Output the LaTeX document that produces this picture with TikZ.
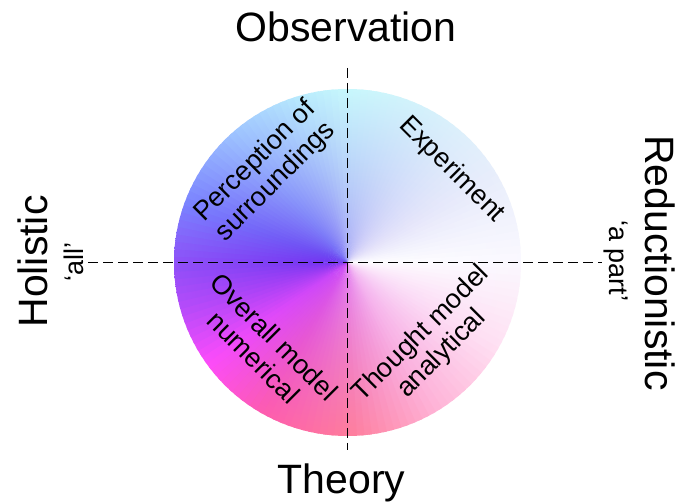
\documentclass[tikz,border=0pt]{standalone}
\usepackage{fontspec}
\setmainfont{Liberation Sans}
% outer (rim) colours, angle clockwise from top
\definecolor{o0}{HTML}{C8FAFC}
\definecolor{o30}{HTML}{D6F2FB}
\definecolor{o60}{HTML}{E8EEFB}
\definecolor{o90}{HTML}{FAF8FF}
\definecolor{o120}{HTML}{FFE0F2}
\definecolor{o150}{HTML}{FFB2D4}
\definecolor{o180}{HTML}{FF7C98}
\definecolor{o210}{HTML}{FF5CAC}
\definecolor{o235}{HTML}{FF4CFA}
\definecolor{o255}{HTML}{B84CFA}
\definecolor{o270}{HTML}{9050F8}
\definecolor{o290}{HTML}{7A84FF}
\definecolor{o320}{HTML}{A0C8FF}
\definecolor{o345}{HTML}{BAEEFD}
% inner (centre) colours
\definecolor{i0}{HTML}{A8A8F6}
\definecolor{i30}{HTML}{C8C4F8}
\definecolor{i60}{HTML}{E4E0FA}
\definecolor{i90}{HTML}{FFFFFF}
\definecolor{i120}{HTML}{F8D6F8}
\definecolor{i150}{HTML}{F2B2F4}
\definecolor{i180}{HTML}{E280F4}
\definecolor{i210}{HTML}{D052F8}
\definecolor{i235}{HTML}{C046F8}
\definecolor{i255}{HTML}{9438F2}
\definecolor{i270}{HTML}{7030F0}
\definecolor{i290}{HTML}{6C40F0}
\definecolor{i320}{HTML}{7468F6}
\definecolor{i345}{HTML}{9088F6}
\begin{document}
\begin{tikzpicture}[x=1pt,y=1pt,
  bigtxt/.style={font=\fontsize{41}{49}\selectfont, inner sep=0pt},
  smalltxt/.style={font=\fontsize{27}{32}\selectfont, inner sep=0pt},
  quadtxt/.style={font=\fontsize{27}{29}\selectfont, align=center, inner sep=0pt},
  axisline/.style={black, line width=1.6pt, dash pattern=on 10pt off 5pt}]
\useasboundingbox (0,0) rectangle (682,503);
\fill[white] (0,0) rectangle (682,503);
\def\Rc{173.5}
\coordinate (ctr) at (347.5,240.5);
\begin{scope}[shift={(ctr)}]
\foreach \ta/\tb/\oa/\ob/\ia/\ib in {0/30/o0/o30/i0/i30,
  30/60/o30/o60/i30/i60, 60/90/o60/o90/i60/i90, 90/120/o90/o120/i90/i120,
  120/150/o120/o150/i120/i150, 150/180/o150/o180/i150/i180,
  180/210/o180/o210/i180/i210, 210/235/o210/o235/i210/i235,
  235/255/o235/o255/i235/i255, 255/270/o255/o270/i255/i270,
  270/290/o270/o290/i270/i290, 290/320/o290/o320/i290/i320,
  320/345/o320/o345/i320/i345, 345/360/o345/o0/i345/i0}{
  \pgfmathtruncatemacro\n{round((\tb-\ta)/2.5)}
  \foreach \k in {1,...,\n}{
    \pgfmathsetmacro\pB{100-100*(\k-0.5)/\n}
    \colorlet{co}{\oa!\pB!\ob}
    \colorlet{ci}{\ia!\pB!\ib}
    \pgfmathsetmacro\sa{90-\ta-(\k-1)*(\tb-\ta)/\n+0.6}
    \pgfmathsetmacro\sb{90-\ta-\k*(\tb-\ta)/\n-0.6}
    \begin{scope}
      \clip (0,0) -- (\sa:\Rc) arc[start angle=\sa, end angle=\sb, radius=\Rc] -- cycle;
      \shade[inner color=ci, outer color=co] (0,0) circle (1.03*\Rc);
    \end{scope}
  }
}
\end{scope}
% axes
\coordinate (vt) at (347.5,435);
\coordinate (vb) at (347.5,53);
\coordinate (hl) at (88,240.5);
\coordinate (hr) at (602,240.5);
\draw[axisline] (vt) -- (vb);
\draw[axisline] (hl) -- (hr);
% outer labels
\node[bigtxt, anchor=base] (obs) at (346,461) {Observation};
\node[bigtxt, anchor=base] (the) at (341.5,10) {Theory};
\node[bigtxt, anchor=base, rotate=90] (hol) at (47,241.5) {Holistic};
\node[smalltxt, anchor=base, rotate=90] (all) at (83,241.3) {‘all’};
\node[bigtxt, anchor=base, rotate=-90] (red) at (645,240) {Reductionistic};
\node[smalltxt, anchor=base, rotate=-90] (part) at (609,242) {‘a part’};
% quadrant labels
\node[quadtxt, rotate=45] (per) at (265.7,331.3) {Perception of\\surroundings};
\node[quadtxt, rotate=-45] (exp) at (451.7,333) {Experiment};
\node[quadtxt, rotate=-45] (ovm) at (264,156) {Overall model\\numerical};
\node[quadtxt, rotate=45] (thm) at (431.7,159) {Thought model\\analytical};
\end{tikzpicture}
\end{document}
